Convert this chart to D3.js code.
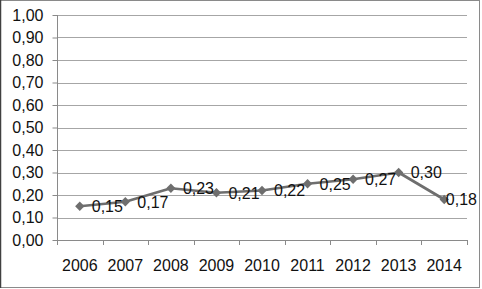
<!DOCTYPE html>
<html><head><meta charset="utf-8">
<script src="https://cdn.jsdelivr.net/npm/d3@7"></script>
<style>
html,body{margin:0;padding:0;background:#fff;}
svg{display:block;font-family:"Liberation Sans",Arial,sans-serif;}
</style></head>
<body><svg id="c" width="482" height="289"></svg>
<script>
const years = ["2006","2007","2008","2009","2010","2011","2012","2013","2014"];
const values = [0.15,0.17,0.23,0.21,0.22,0.25,0.27,0.30,0.18];
const labels = ["0,15","0,17","0,23","0,21","0,22","0,25","0,27","0,30","0,18"];
const yTicks = [0,0.1,0.2,0.3,0.4,0.5,0.6,0.7,0.8,0.9,1.0];

const svg = d3.select("#c");
const L = 57, R = 467, T = 15, B = 240;
const FS = 16;
const x = d3.scaleBand().domain(years).range([L, R]);
const y = d3.scaleLinear().domain([0, 1]).range([B, T]);
const fmt = d => d.toFixed(2).replace(".", ",");

// outer border
svg.append("rect").attr("x",0.5).attr("y",0.5).attr("width",479).attr("height",287)
  .attr("fill","#fff").attr("stroke","#8a8a8a");
svg.append("line").attr("x1",0.5).attr("x2",0.5).attr("y1",0).attr("y2",288)
  .attr("stroke","#404040").attr("stroke-width",1.5);

// gridlines
svg.append("g").selectAll("line").data(yTicks.filter(d=>d>0)).join("line")
  .attr("x1",L).attr("x2",R)
  .attr("y1",d=>Math.round(y(d))+0.5).attr("y2",d=>Math.round(y(d))+0.5)
  .attr("stroke","#a6a6a6").attr("stroke-width",1);

// y axis
const ya = svg.append("g").attr("transform",`translate(${L+0.5},0)`)
  .call(d3.axisLeft(y).tickValues(yTicks).tickFormat(fmt).tickSize(5).tickPadding(9));
ya.selectAll("text").attr("font-size",FS).attr("fill","#111").attr("font-family","Liberation Sans, Arial, sans-serif");
ya.selectAll("line").attr("stroke","#8a8a8a");
ya.select(".domain").attr("stroke","#8a8a8a").attr("d",`M0,${T}V${B}`);

// x axis
const xa = svg.append("g").attr("transform",`translate(0,${B+0.5})`)
  .call(d3.axisBottom(x).tickSize(0).tickPadding(19));
xa.select(".domain").attr("stroke","#8a8a8a").attr("d",`M${L},0H${R}`);
xa.selectAll("text").attr("font-size",FS).attr("fill","#111").attr("font-family","Liberation Sans, Arial, sans-serif");
// category boundary ticks
const bounds = years.map(d=>x(d)).concat([R]);
svg.append("g").selectAll("line").data(bounds).join("line")
  .attr("x1",d=>Math.round(d)+0.5).attr("x2",d=>Math.round(d)+0.5)
  .attr("y1",B).attr("y2",B+5).attr("stroke","#8a8a8a");

// line
const cx = d => x(d) + x.bandwidth()/2;
svg.append("path").datum(values.map((v,i)=>[years[i],v]))
  .attr("fill","none").attr("stroke","#6e6e6e").attr("stroke-width",2.75)
  .attr("stroke-linejoin","round")
  .attr("d", d3.line().x(d=>cx(d[0])).y(d=>y(d[1])));

// markers
svg.append("g").selectAll("path").data(values).join("path")
  .attr("transform",(d,i)=>`translate(${cx(years[i])},${y(d)})`)
  .attr("d", d3.symbol().type(d3.symbolDiamond2).size(55))
  .attr("fill","#6e6e6e");

// data labels (right of point, pulled in if it would overflow the chart)
const lbl = svg.append("g").selectAll("text").data(values).join("text")
  .attr("y",d=>y(d)).attr("dy","0.36em").attr("font-size",FS).attr("fill","#111")
  .text((d,i)=>labels[i]);
lbl.each(function(d,i){
  const w = this.getComputedTextLength();
  let px = cx(years[i]) + 12;
  if (px + w > 477) px = 477 - w;
  d3.select(this).attr("x", px);
});
</script></body></html>
